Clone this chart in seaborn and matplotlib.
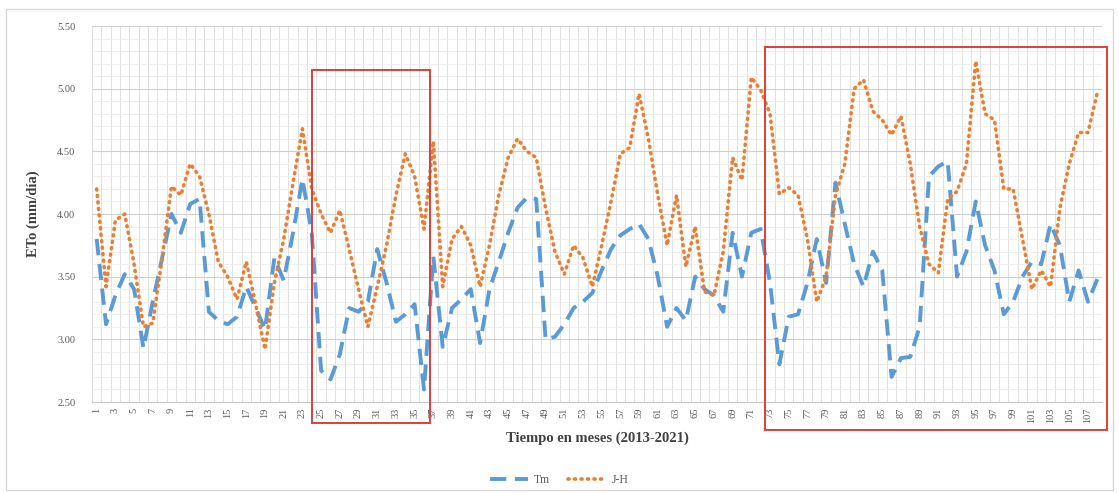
import numpy as np
import pandas as pd
import matplotlib
matplotlib.use("Agg")
import matplotlib.pyplot as plt
from matplotlib.patches import Rectangle
from matplotlib.ticker import MultipleLocator, FixedLocator
import seaborn as sns

# ---------------- data ----------------
months = list(range(1, 109))

tm = [3.80, 3.12, 3.35, 3.52, 3.40, 2.93, 3.30, 3.65, 4.00, 3.85,
      4.08, 4.12, 3.22, 3.15, 3.12, 3.18, 3.42, 3.25, 3.08, 3.65,
      3.47, 3.85, 4.28, 3.85, 2.75, 2.68, 2.88, 3.25, 3.22, 3.30,
      3.72, 3.45, 3.14, 3.20, 3.28, 2.60, 3.66, 2.94, 3.25, 3.32,
      3.40, 2.97, 3.40, 3.62, 3.85, 4.05, 4.13, 4.12, 3.00, 3.02,
      3.12, 3.25, 3.30, 3.37, 3.55, 3.72, 3.83, 3.88, 3.92, 3.80,
      3.50, 3.10, 3.25, 3.15, 3.50, 3.40, 3.35, 3.22, 3.85, 3.50,
      3.85, 3.88, 3.45, 2.80, 3.18, 3.20, 3.45, 3.80, 3.45, 4.25,
      3.92, 3.60, 3.42, 3.70, 3.55, 2.70, 2.85, 2.86, 3.10, 4.30,
      4.38, 4.42, 3.50, 3.70, 4.10, 3.75, 3.55, 3.20, 3.30, 3.50,
      3.62, 3.60, 3.92, 3.75, 3.30, 3.55, 3.30, 3.48]

jh = [4.20, 3.42, 3.95, 4.00, 3.60, 3.10, 3.13, 3.65, 4.22, 4.15,
      4.40, 4.30, 4.00, 3.62, 3.50, 3.32, 3.62, 3.28, 2.92, 3.45,
      3.80, 4.25, 4.68, 4.20, 4.00, 3.85, 4.03, 3.72, 3.40, 3.10,
      3.42, 3.75, 4.15, 4.48, 4.30, 3.88, 4.58, 3.42, 3.80, 3.90,
      3.75, 3.42, 3.75, 4.15, 4.45, 4.60, 4.50, 4.45, 4.05, 3.70,
      3.52, 3.75, 3.65, 3.42, 3.75, 4.10, 4.48, 4.53, 4.96, 4.60,
      4.15, 3.75, 4.15, 3.58, 3.90, 3.38, 3.35, 3.70, 4.45, 4.27,
      5.09, 4.99, 4.80, 4.16, 4.21, 4.15, 3.80, 3.30, 3.50, 4.15,
      4.40, 5.00, 5.07, 4.82, 4.75, 4.63, 4.78, 4.40, 3.90, 3.60,
      3.53, 4.12, 4.18, 4.40, 5.22, 4.80, 4.75, 4.20, 4.20, 3.80,
      3.40, 3.55, 3.42, 4.05, 4.40, 4.65, 4.65, 4.97]

series_names = ["Tm", "J-H"]
y_ticks = [2.50, 3.00, 3.50, 4.00, 4.50, 5.00, 5.50]
x_tick_labels = [str(m) for m in months if m % 2 == 1]

# highlighted periods (month start, month end, value bottom, value top)
highlight_boxes = [(24.0, 36.6, 2.33, 5.145), (72.5, 109.0, 2.28, 5.33)]

# ---------------- style ----------------
sns.set_theme(style="white")
plt.rcParams['font.family'] = ['Liberation Serif', 'DejaVu Serif']

W, H = 1119, 493
fig = plt.figure(figsize=(W / 100, H / 100), dpi=100)
fig.patch.set_facecolor("white")
ax = fig.add_axes([92 / W, 1 - 402 / H, (1102 - 92) / W, (402 - 26) / H])

df = pd.DataFrame({"mes": months * 2,
                   "ETo": tm + jh,
                   "serie": [series_names[0]] * len(months) + [series_names[1]] * len(months)})

colors = {"Tm": "#5B9BD5", "J-H": "#ED7D31"}
sns.lineplot(data=df[df.serie == "Tm"], x="mes", y="ETo", ax=ax,
             color=colors["Tm"], linewidth=2.8, label="Tm", legend=False)
sns.lineplot(data=df[df.serie == "J-H"], x="mes", y="ETo", ax=ax,
             color=colors["J-H"], linewidth=2.6, label="J-H", legend=False)
lines = ax.get_lines()
lines[0].set_dashes([4.2, 2.2])
lines[0].set_dash_capstyle("butt")
lines[1].set_dashes([0.3, 1.5])
lines[1].set_dash_capstyle("round")

ax.set_xlim(0.5, 108.5)
ax.set_ylim(2.5, 5.5)

# grid
ax.yaxis.set_major_locator(FixedLocator(y_ticks))
ax.yaxis.set_minor_locator(MultipleLocator(0.1))
ax.set_yticklabels([f"{v:.2f}" for v in y_ticks])
ax.xaxis.set_major_locator(FixedLocator([m for m in months if m % 2 == 1]))
ax.set_xticklabels(x_tick_labels, rotation=90)
ax.xaxis.set_minor_locator(FixedLocator([m + 0.5 for m in range(0, 109)]))
ax.grid(which="major", axis="y", color="#d0d0d0", linewidth=0.8)
ax.grid(which="minor", axis="y", color="#ededed", linewidth=0.6)
ax.grid(which="minor", axis="x", color="#dcdcdc", linewidth=0.6)
ax.set_axisbelow(True)

for s in ["top", "right", "left"]:
    ax.spines[s].set_visible(False)
ax.spines["bottom"].set_color("#c8c8c8")
ax.spines["bottom"].set_linewidth(0.8)

ax.tick_params(axis="both", which="both", length=0, colors="#595959", labelsize=7.5)
ax.tick_params(axis="y", which="major", pad=12)
ax.tick_params(axis="x", which="major", pad=4)

ax.set_xlabel("Tiempo en meses (2013-2021)", fontsize=10.5, fontweight="bold",
              color="#404040", labelpad=6)
ax.set_ylabel("ETo (mm/día)", fontsize=10.5, fontweight="bold", color="#404040", labelpad=12)

# highlight boxes
for (x0, x1, y0, y1) in highlight_boxes:
    ax.add_patch(Rectangle((x0, y0), x1 - x0, y1 - y0, fill=False,
                           edgecolor="#E03C3C", linewidth=1.4, clip_on=False, zorder=5))

# legend
handles = lines[:2]
leg = fig.legend(handles, series_names, loc="center", bbox_to_anchor=(0.5, 1 - 480 / H),
                 ncol=2, frameon=False, fontsize=8.5, handlelength=3.2, columnspacing=1.5,
                 handletextpad=0.5)
for t in leg.get_texts():
    t.set_color("#595959")

# chart border
fig.add_artist(Rectangle((6 / W, 1 - 490 / H), (1113 - 6) / W, (490 - 9) / H,
                         transform=fig.transFigure, fill=False,
                         edgecolor="#d9d9d9", linewidth=1.0))

fig.savefig("out.png", dpi=100, facecolor="white")
